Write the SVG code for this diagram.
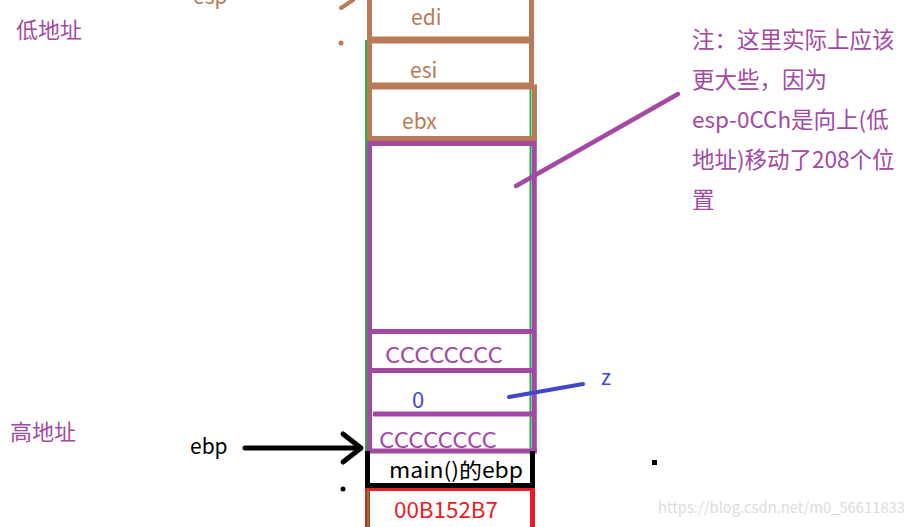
<svg xmlns="http://www.w3.org/2000/svg" width="915" height="527" viewBox="0 0 915 527">
<style>
text{font-family:"Noto Sans CJK SC","Microsoft YaHei","Liberation Sans",sans-serif;}
.br{fill:none;stroke:#b97a57;stroke-width:5}
.pu{fill:none;stroke:#a349a4;stroke-width:5}
.gr{fill:none;stroke:#22b14c;stroke-width:2}
.tbr{fill:#b97a57;font-size:21px}
.tpu{fill:#a349a4;font-size:22px}
</style>
<rect width="915" height="527" fill="#fff"/>
<g id="green-guides">
<line class="gr" x1="366" y1="40" x2="366" y2="527"/>
<line class="gr" x1="530.5" y1="0" x2="530.5" y2="455"/>
</g>
<g id="edi">
<rect class="br" x="369.5" y="-10" width="162" height="49"/>
<text class="tbr" x="411" y="25">edi</text>
</g>
<g id="esi">
<rect class="br" x="369.5" y="41" width="162" height="44"/>
<text class="tbr" x="410" y="78">esi</text>
</g>
<g id="ebx">
<rect class="br" x="369.5" y="87" width="165" height="51.5"/>
<text class="tbr" x="402" y="129">ebx</text>
</g>
<g id="local-area">
<line class="pu" x1="369.5" y1="143.5" x2="534.5" y2="143.5"/>
<line class="pu" x1="369.5" y1="141" x2="369.5" y2="453"/>
<line class="pu" x1="534.3" y1="141" x2="534.3" y2="453"/>
<line class="pu" x1="372" y1="331.5" x2="532" y2="331.5" stroke-width="4"/>
</g>
<g id="cc1">
<line class="pu" x1="372" y1="370.5" x2="532" y2="370.5" stroke-width="3.5"/>
<text class="tpu" x="385" y="363" textLength="118" lengthAdjust="spacingAndGlyphs">CCCCCCCC</text>
</g>
<g id="z-slot">
<line class="pu" x1="373" y1="414" x2="532" y2="414" stroke-width="3.5"/>
<text x="412" y="408" font-size="22" fill="#3f48cc">0</text>
</g>
<g id="cc2">
<text class="tpu" x="379" y="448" textLength="118" lengthAdjust="spacingAndGlyphs">CCCCCCCC</text>
<line class="pu" x1="367" y1="451" x2="537" y2="451" stroke-width="4"/>
</g>
<g id="main-ebp">
<line x1="367.5" y1="451" x2="367.5" y2="488" stroke="#000" stroke-width="5"/>
<line x1="532.5" y1="451" x2="532.5" y2="488" stroke="#000" stroke-width="5"/>
<line x1="365" y1="485.5" x2="535" y2="485.5" stroke="#000" stroke-width="5"/>
<text x="389" y="478" font-size="21" fill="#000" textLength="134" lengthAdjust="spacingAndGlyphs">main()的ebp</text>
</g>
<g id="ret-addr">
<line x1="367.5" y1="488" x2="367.5" y2="527" stroke="#ed1c24" stroke-width="5"/>
<line x1="532.5" y1="488" x2="532.5" y2="527" stroke="#ed1c24" stroke-width="5"/>
<line x1="365" y1="489.5" x2="535" y2="489.5" stroke="#ed1c24" stroke-width="3"/>
<line x1="368" y1="490" x2="368" y2="527" stroke="#22b14c" stroke-width="1.5"/>
<text x="394" y="518" font-size="22" fill="#ed1c24" textLength="104" lengthAdjust="spacingAndGlyphs">00B152B7</text>
</g>
<g id="labels">
<text x="193" y="4" font-size="21" fill="#b97a57">esp</text>
<text x="16" y="38" font-size="22" fill="#a349a4">低地址</text>
<text x="10" y="440" font-size="22" fill="#a349a4">高地址</text>
<text x="190" y="454" font-size="21" fill="#000">ebp</text>
<text x="601" y="385" font-size="21" fill="#3f48cc">z</text>
<g fill="#a349a4" font-size="22.5">
<text x="692" y="48">注：这里实际上应该</text>
<text x="692" y="88">更大些，因为</text>
<text x="692" y="128">esp-0CCh是向上(低</text>
<text x="692" y="168">地址)移动了208个位</text>
<text x="692" y="208">置</text>
</g>
<text x="658" y="513" font-size="15" fill="#dcdcdc" font-family="Liberation Sans, sans-serif" textLength="247" lengthAdjust="spacingAndGlyphs">https://blog.csdn.net/m0_56611833</text>
</g>
<g id="connectors">
<line x1="341" y1="8" x2="353" y2="0" stroke="#b97a57" stroke-width="4" stroke-linecap="round"/>
<circle cx="341" cy="43" r="2.5" fill="#b97a57"/>
<line x1="516" y1="186" x2="678" y2="94" stroke="#a349a4" stroke-width="4.5" stroke-linecap="round"/>
<line x1="509" y1="397" x2="583" y2="384" stroke="#3f48cc" stroke-width="4" stroke-linecap="round"/>
<line x1="245" y1="448" x2="360" y2="448" stroke="#000" stroke-width="5" stroke-linecap="round"/>
<polyline points="343,434 361,448 343,462" fill="none" stroke="#000" stroke-width="5" stroke-linecap="round" stroke-linejoin="round"/>
<circle cx="343" cy="489" r="2.5" fill="#000"/>
<rect x="652" y="460" width="5" height="5" fill="#000"/>
</g>
</svg>
